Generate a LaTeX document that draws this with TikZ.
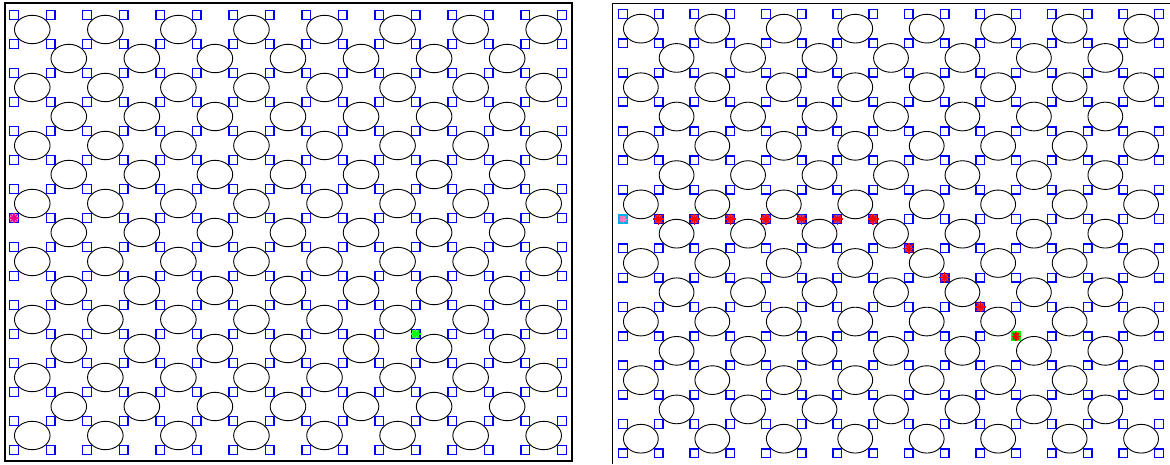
\documentclass[tikz,border=0pt]{standalone}
\usetikzlibrary{shapes.geometric}
\begin{document}
\begin{tikzpicture}[x=1pt,y=-1pt,
  cellsq/.style={draw=blue,line width=1.4pt,minimum size=8.6pt,inner sep=0pt,rectangle},
  cellov/.style={draw=black,line width=0.9pt,ellipse,inner sep=0pt},
  starline/.style={line width=1.3pt},
]
\useasboundingbox (0,0) rectangle (1170,464);
% ---------- left panel ----------
\draw[line width=2pt] (5,3) rectangle (572,461);
\foreach \r in {0,...,14}{
  \foreach \c in {0,...,14}{
    \pgfmathtruncatemacro\pp{mod(\r+\c,2)}
    \ifnum\pp=0
      \node[cellov,minimum width=35.6pt,minimum height=28.4pt] (LE-\c-\r) at ({14+36.53*(\c+0.5)},{15+29*(\r+0.5)}) {};
    \fi
  }
}
\foreach \r in {0,...,15}{
  \foreach \c in {0,...,15}{
    \node[cellsq] (LS-\c-\r) at ({14+36.53*\c},{15+29*\r}) {};
  }
}
% start / goal markers (left)
\node[cellsq,fill=magenta!45] (LStart) at (LS-0-7) {};
\foreach \a in {0,45,90,135} \draw[starline,magenta,shift={(LStart.center)}] (\a:5) -- (\a+180:5);
\node[cellsq,fill=green!70] (LGoal) at (LS-11-11) {};
\foreach \a in {0,45,90,135} \draw[starline,green,shift={(LGoal.center)}] (\a:5) -- (\a+180:5);
% ---------- right panel ----------
\draw[line width=1pt] (612.5,464) -- (612.5,3.5) -- (1170,3.5);
\foreach \r in {0,...,14}{
  \foreach \c in {0,...,14}{
    \pgfmathtruncatemacro\pp{mod(\r+\c,2)}
    \ifnum\pp=0
      \node[cellov,minimum width=34.8pt,minimum height=28.7pt] (RE-\c-\r) at ({623+35.73*(\c+0.5)},{14+29.29*(\r+0.5)}) {};
    \fi
  }
}
\foreach \r in {0,...,15}{
  \foreach \c in {0,...,15}{
    \node[cellsq] (RS-\c-\r) at ({623+35.73*\c},{14+29.29*\r}) {};
  }
}
% start marker (right)
\node[cellsq,draw=cyan,line width=2.2pt,fill=magenta!60,minimum size=8pt] (RStart) at (RS-0-7) {};
\foreach \a in {0,45,90,135} \draw[line width=1pt,magenta!50!white,shift={(RStart.center)}] (\a:3.5) -- (\a+180:3.5);
% path markers
\foreach \c/\r [count=\k] in {1/7,2/7,3/7,4/7,5/7,6/7,7/7,8/8,9/9,10/10}{
  \node[cellsq,fill=blue!40!red!70] (RP-\k) at (RS-\c-\r) {};
  \foreach \a in {0,45,90,135} \draw[starline,red,shift={(RP-\k.center)}] (\a:5.5) -- (\a+180:5.5);
}
% goal marker (right)
\node[cellsq,draw=green,fill=green!70!black,line width=1.8pt] (RGoal) at (RS-11-11) {};
\foreach \a in {0,45,90,135} \draw[starline,red,shift={(RGoal.center)}] (\a:4.5) -- (\a+180:4.5);
\end{tikzpicture}
\end{document}
